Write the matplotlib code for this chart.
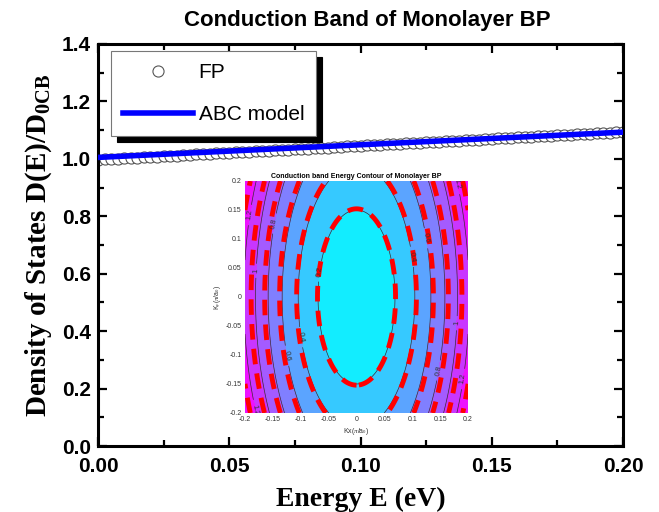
import matplotlib
matplotlib.use("Agg")
import matplotlib.pyplot as plt
import numpy as np
from matplotlib.ticker import MultipleLocator

# ---------------------------------------------------------------------------
# Datos
# ---------------------------------------------------------------------------
energy_fp = [
    0.0000, 0.0025, 0.0050, 0.0075, 0.0100, 0.0125, 0.0150, 0.0175, 0.0200, 0.0225,
    0.0250, 0.0275, 0.0300, 0.0325, 0.0350, 0.0375, 0.0400, 0.0425, 0.0450, 0.0475,
    0.0500, 0.0525, 0.0550, 0.0575, 0.0600, 0.0625, 0.0650, 0.0675, 0.0700, 0.0725,
    0.0750, 0.0775, 0.0800, 0.0825, 0.0850, 0.0875, 0.0900, 0.0925, 0.0950, 0.0975,
    0.1000, 0.1025, 0.1050, 0.1075, 0.1100, 0.1125, 0.1150, 0.1175, 0.1200, 0.1225,
    0.1250, 0.1275, 0.1300, 0.1325, 0.1350, 0.1375, 0.1400, 0.1425, 0.1450, 0.1475,
    0.1500, 0.1525, 0.1550, 0.1575, 0.1600, 0.1625, 0.1650, 0.1675, 0.1700, 0.1725,
    0.1750, 0.1775, 0.1800, 0.1825, 0.1850, 0.1875, 0.1900, 0.1925, 0.1950, 0.1975,
    0.2000,
]
dos_fp = [
    0.9970, 0.9982, 0.9994, 1.0006, 1.0019, 1.0031, 1.0043, 1.0055, 1.0067, 1.0079,
    1.0091, 1.0103, 1.0116, 1.0128, 1.0140, 1.0152, 1.0164, 1.0176, 1.0188, 1.0200,
    1.0213, 1.0225, 1.0237, 1.0249, 1.0261, 1.0273, 1.0285, 1.0297, 1.0310, 1.0322,
    1.0334, 1.0346, 1.0358, 1.0370, 1.0382, 1.0394, 1.0407, 1.0419, 1.0431, 1.0443,
    1.0455, 1.0467, 1.0479, 1.0491, 1.0503, 1.0516, 1.0528, 1.0540, 1.0552, 1.0564,
    1.0576, 1.0588, 1.0600, 1.0613, 1.0625, 1.0637, 1.0649, 1.0661, 1.0673, 1.0685,
    1.0697, 1.0710, 1.0722, 1.0734, 1.0746, 1.0758, 1.0770, 1.0782, 1.0794, 1.0807,
    1.0819, 1.0831, 1.0843, 1.0855, 1.0867, 1.0879, 1.0891, 1.0904, 1.0916, 1.0928,
    1.0940,
]
energy_abc = [0.00, 0.05, 0.10, 0.15, 0.20]
dos_abc = [1.005, 1.027, 1.049, 1.071, 1.093]

# Inset: contornos de energía (niveles y semiejes)
contour_levels = [0.2, 0.4, 0.6, 0.8, 1.0, 1.2]
fill_levels = [0.0, 0.2, 0.4, 0.6, 0.8, 1.0, 1.2, 1.4]
k_ticks = [-0.2, -0.15, -0.1, -0.05, 0, 0.05, 0.1, 0.15, 0.2]
k_tick_labels = ["-0.2", "-0.15", "-0.1", "-0.05", "0", "0.05", "0.1", "0.15", "0.2"]
fp_kx0, fp_ky0, fp_power = 0.069, 0.150, 1.667    # E = 0.2 en (kx0, ky0)
abc_kx0, abc_ky0, abc_power = 0.070, 0.152, 1.62

plt.rcParams["font.family"] = ["Liberation Sans", "DejaVu Sans"]
plt.rcParams["mathtext.fontset"] = "custom"
plt.rcParams["mathtext.rm"] = "Liberation Serif"
plt.rcParams["mathtext.bf"] = "Liberation Serif:bold"
plt.rcParams["mathtext.it"] = "Liberation Serif:italic"

fig = plt.figure(figsize=(6.59, 5.12), dpi=100)
ax = fig.add_axes([0.1487, 0.1289, 0.7967, 0.7852])

ax.plot(energy_fp, dos_fp, "o", ms=8, mfc="white", mec="#555555", mew=0.8,
        label="FP", zorder=2)
ax.plot(energy_abc, dos_abc, "-", color="#0000ff", lw=4, label="ABC model", zorder=3)

ax.set_xlim(0, 0.2)
ax.set_ylim(0, 1.4)
ax.xaxis.set_major_locator(MultipleLocator(0.05))
ax.xaxis.set_minor_locator(MultipleLocator(0.025))
ax.yaxis.set_major_locator(MultipleLocator(0.2))
ax.yaxis.set_minor_locator(MultipleLocator(0.1))
ax.xaxis.set_major_formatter(plt.FormatStrFormatter("%.2f"))
ax.yaxis.set_major_formatter(plt.FormatStrFormatter("%.1f"))
ax.tick_params(which="both", direction="in", top=True, right=True, width=1.6,
               labelsize=15)
ax.tick_params(which="major", length=6.5)
ax.tick_params(which="minor", length=4)
ax.tick_params(axis="x", pad=8)
ax.tick_params(axis="y", pad=5)
for lab in ax.get_xticklabels() + ax.get_yticklabels():
    lab.set_fontweight("bold")
for s in ax.spines.values():
    s.set_linewidth(2.2)

ax.set_title("Conduction Band of Monolayer BP", fontsize=16, fontweight="bold",
             pad=13, x=0.513)
ax.set_xlabel("Energy E (eV)", fontsize=20, fontweight="bold",
              family="Liberation Serif", labelpad=8)
ax.set_ylabel(r"Density of States D(E)/D$_{\mathbf{0CB}}$", fontsize=21,
              fontweight="bold", family="Liberation Serif", labelpad=6)

leg = ax.legend(loc="upper left", bbox_to_anchor=(0.0248, 0.9826), fontsize=15,
                frameon=True, fancybox=False, handlelength=3.37, labelspacing=1.1,
                borderpad=0.58, handletextpad=0.25, borderaxespad=0,
                shadow={"ox": 4, "oy": -4, "color": "black", "alpha": 1})
leg.get_frame().set_edgecolor("#777777")
leg.get_frame().set_linewidth(0.8)

# ---------------------------------------------------------------------------
# Inset
# ---------------------------------------------------------------------------
ins = fig.add_axes([0.3718, 0.1934, 0.3384, 0.4531])
kx, ky = np.meshgrid(np.linspace(-0.2, 0.2, 301), np.linspace(-0.2, 0.2, 301))
e_fp = 0.2 * np.hypot(kx / fp_kx0, ky / fp_ky0) ** fp_power
e_abc = 0.2 * np.hypot(kx / abc_kx0, ky / abc_ky0) ** abc_power

ins.contourf(kx, ky, e_fp, levels=fill_levels, cmap="cool", extend="max")
cs = ins.contour(kx, ky, e_fp, levels=contour_levels, colors="#333333",
                 linewidths=0.5)
ins.clabel(cs, fmt=lambda v: f"{v:g}", fontsize=5.5, inline=True)
ins.contour(kx, ky, e_abc, levels=contour_levels, colors="red", linewidths=3.5,
            linestyles=[(0, (3.2, 1.9))])

ins.set_xticks(k_ticks, k_tick_labels)
ins.set_yticks(k_ticks, k_tick_labels)
ins.tick_params(labelsize=5, length=0, pad=2.5, colors="#333333")
for s in ins.spines.values():
    s.set_visible(False)
ins.set_title("Conduction band Energy Contour of Monolayer BP", fontsize=5,
              fontweight="bold", pad=2)
ins.set_xlabel(r"Kx($\pi$/a$_0$)", fontsize=5, labelpad=2, color="#333333")
ins.set_ylabel(r"K$_y$($\pi$/a$_0$)", fontsize=5, labelpad=2, color="#333333")

fig.savefig("out.png", dpi=100)
